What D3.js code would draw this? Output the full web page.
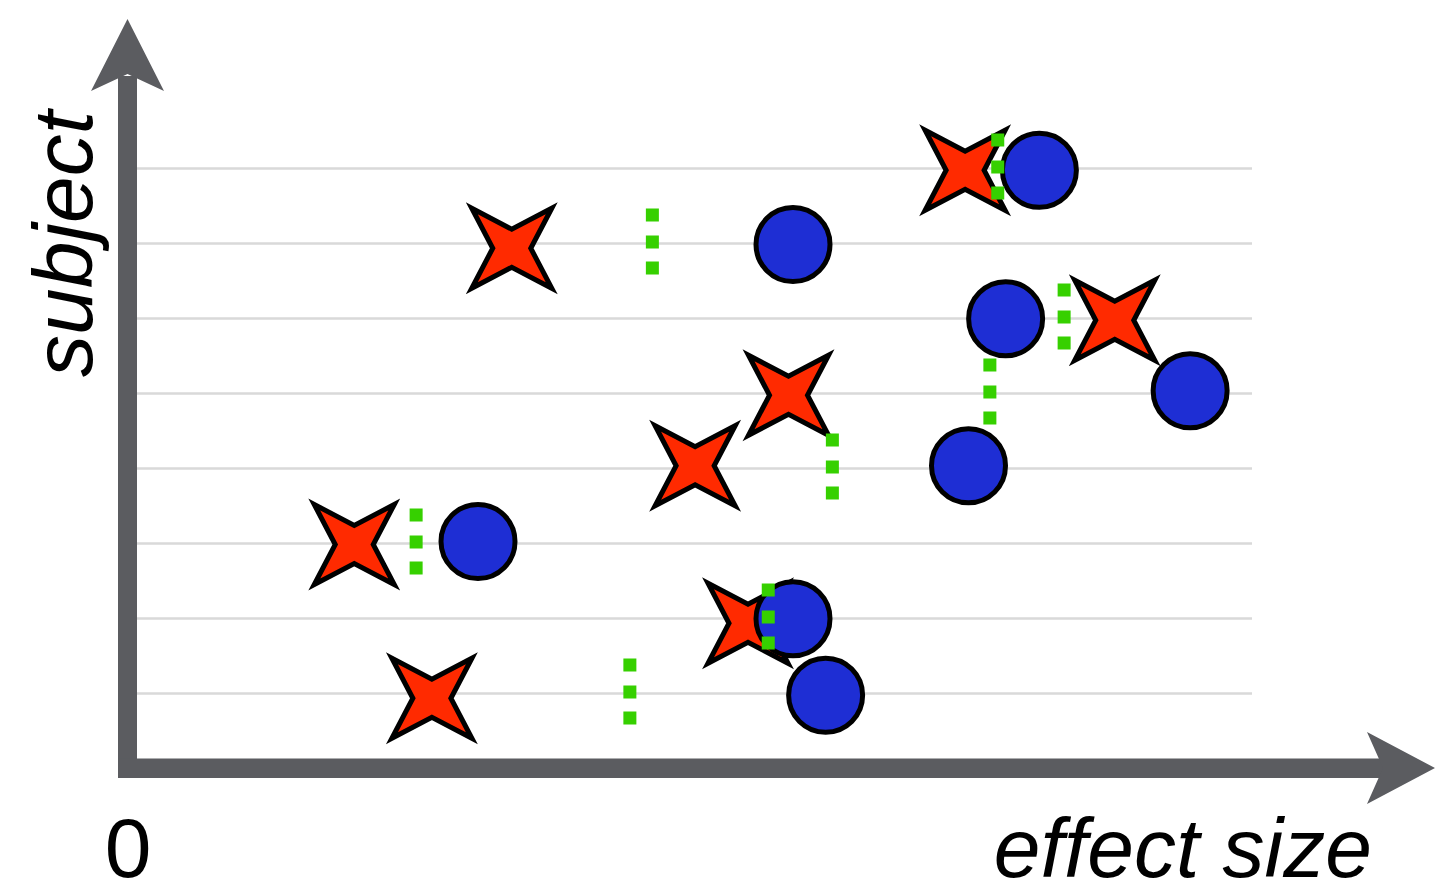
<!DOCTYPE html>
<html>
<head>
<meta charset="utf-8">
<script src="https://cdn.jsdelivr.net/npm/d3@7"></script>
<style>
  html, body { margin: 0; padding: 0; background: #fff; }
  svg { display: block; }
  text { font-family: "Liberation Sans", Arial, Helvetica, sans-serif; fill: #000; }
</style>
</head>
<body>
<svg id="chart" width="1435" height="886"></svg>
<script>
// ---- data (subject 1 = bottom row, 8 = top row) ----
const subjects = [1, 2, 3, 4, 5, 6, 7, 8];
// effect size for condition A (red stars)
const starEffect = [2.71, 5.52, 2.02, 5.05, 5.88, 8.78, 3.42, 7.45];
// effect size for condition B (blue circles)
const circleEffect = [6.21, 5.92, 3.12, 7.48, 9.45, 7.81, 5.92, 8.11];
// mean effect (green dotted markers)
const meanEffect = [4.47, 5.70, 2.57, 6.27, 7.67, 8.33, 4.67, 7.74];
// small vertical jitter of markers (subject units)
const starJitter = [-0.07, -0.07, -0.02, 0.03, -0.03, -0.03, -0.07, -0.03];
const circleJitter = [-0.03, -0.01, 0.02, 0.03, 0.03, -0.01, -0.02, -0.03];
// axis labels
const xTickLabels = ["0"];
const xAxisTitle = "effect size";
const yAxisTitle = "subject";

// ---- layout ----
const svg = d3.select("#chart");
const axisColor = "#5b5c60";
const x = d3.scaleLinear().domain([0, 10]).range([127, 1252]);
const y = d3.scaleLinear().domain([1, 8]).range([693, 168]);

// gridlines via axis
const grid = svg.append("g")
  .attr("transform", "translate(137,0)")
  .call(d3.axisLeft(y).tickValues(subjects).tickSize(-(1252 - 137)).tickFormat(""));
grid.select(".domain").remove();
grid.selectAll(".tick line").attr("stroke", "#d9d9d9").attr("stroke-width", 2.5);

// axes with arrows
const ax = svg.append("g");
// y shaft
ax.append("rect").attr("x", 118).attr("y", 76).attr("width", 19).attr("height", 778 - 76).attr("fill", axisColor);
// x shaft
ax.append("rect").attr("x", 118).attr("y", 758.5).attr("width", 1385 - 118).attr("height", 19.5).attr("fill", axisColor);
// y arrowhead
ax.append("path")
  .attr("d", "M127.5,19 L164,91 L127.5,74 L91,91 Z")
  .attr("fill", axisColor);
// x arrowhead
ax.append("path")
  .attr("d", "M1435,768 L1367,804 L1383,768 L1367,732 Z")
  .attr("fill", axisColor);

// labels
svg.append("text")
  .attr("x", 128).attr("y", 877)
  .attr("text-anchor", "middle")
  .attr("font-size", 84)
  .text(xTickLabels[0]);
svg.append("text")
  .attr("x", 1372).attr("y", 877)
  .attr("text-anchor", "end")
  .attr("font-size", 84)
  .attr("font-style", "italic")
  .text(xAxisTitle);
svg.append("text")
  .attr("transform", "translate(92,244) rotate(-90)")
  .attr("text-anchor", "middle")
  .attr("font-size", 84)
  .attr("font-style", "italic")
  .text(yAxisTitle);

// star symbol path
const d = 40, r = 19;
const starPath = `M${d},${-d} L${r},0 L${d},${d} L0,${r} L${-d},${d} L${-r},0 L${-d},${-d} L0,${-r} Z`;

const rows = subjects.map((s, i) => ({
  s, star: starEffect[i], circle: circleEffect[i], mean: meanEffect[i],
  sj: starJitter[i], cj: circleJitter[i]
}));

svg.append("g").selectAll("path.star")
  .data(rows).join("path")
  .attr("class", "star")
  .attr("transform", dd => `translate(${x(dd.star)},${y(dd.s + dd.sj)})`)
  .attr("d", starPath)
  .attr("fill", "#ff2a00")
  .attr("stroke", "#000")
  .attr("stroke-width", 5)
  .attr("stroke-linejoin", "miter")
  .attr("stroke-miterlimit", 6);

svg.append("g").selectAll("circle")
  .data(rows).join("circle")
  .attr("cx", dd => x(dd.circle))
  .attr("cy", dd => y(dd.s + dd.cj))
  .attr("r", 37)
  .attr("fill", "#1e2ed4")
  .attr("stroke", "#000")
  .attr("stroke-width", 5);

const dotOffsets = [-28, -1, 25];
const greens = svg.append("g");
rows.forEach(dd => {
  greens.selectAll(null)
    .data(dotOffsets).join("rect")
    .attr("x", x(dd.mean) - 6.5)
    .attr("y", o => y(dd.s) + o - 6.5)
    .attr("width", 13)
    .attr("height", 13)
    .attr("fill", "#36d000");
});
</script>
</body>
</html>
